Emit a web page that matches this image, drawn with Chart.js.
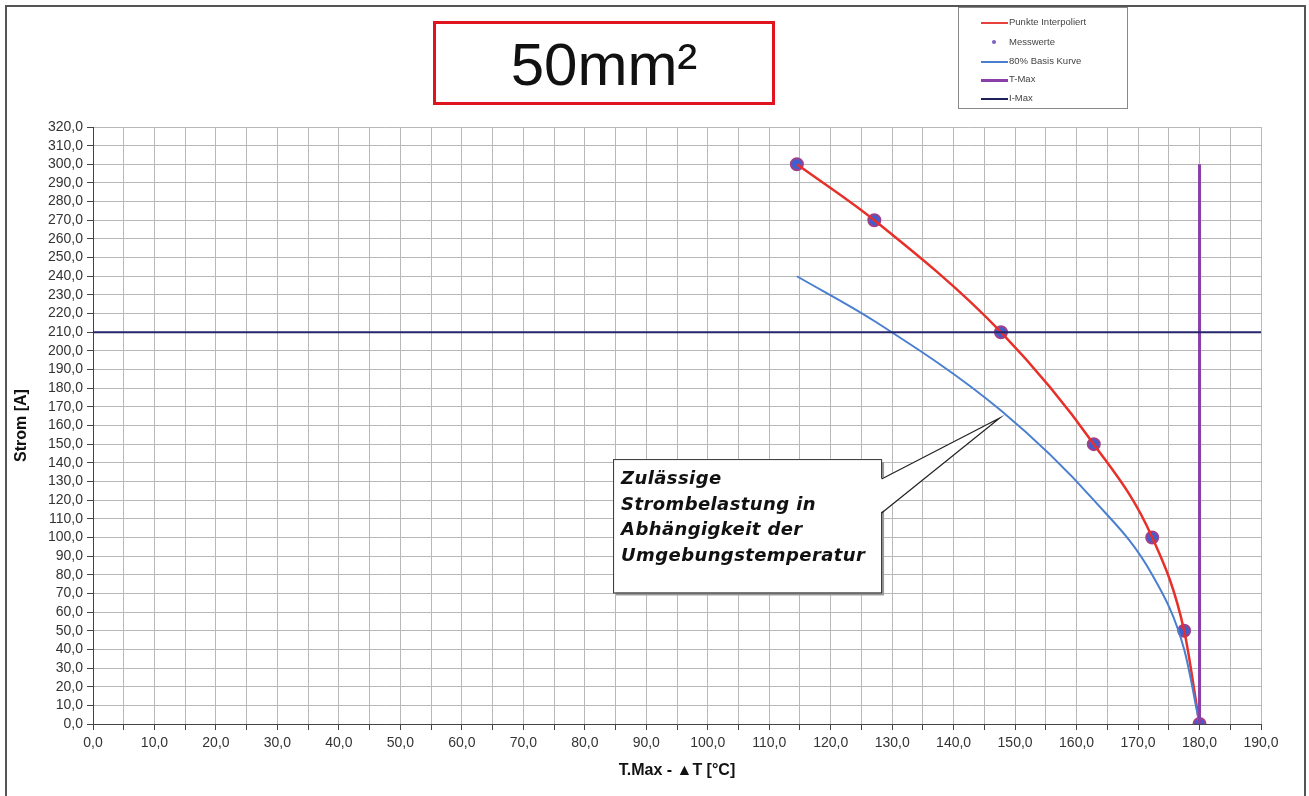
<!DOCTYPE html>
<html>
<head>
<meta charset="utf-8">
<script src="https://cdn.jsdelivr.net/npm/chart.js@4/dist/chart.umd.min.js"></script>
<style>
  body { margin: 0; background: #fff; font-family: "Liberation Sans", Arial, sans-serif; }
  #wrap { position: relative; width: 1309px; height: 796px; overflow: hidden; }
  #frame { position: absolute; left: 5px; top: 5px; width: 1297px; height: 820px; border: 2px solid #555; }
  #title { position: absolute; left: 433px; top: 21px; width: 336px; height: 78px; border: 3px solid #e0141e;
           font-size: 60px; line-height: 82px; text-align: center; color: #111; background: #fff; }
  #legend { position: absolute; left: 958px; top: 7px; width: 168px; height: 100px; border: 1px solid #888; background: #fff;
            font-size: 9.5px; color: #444; }
  .row { position: absolute; left: 0; height: 12px; line-height: 12px; }
  .row i { position: absolute; left: 22px; top: 6px; width: 27px; height: 0; border-top: 2px solid; }
  .row b { position: absolute; left: 33px; top: 4px; width: 4px; height: 4px; border-radius: 50%; background: #7a5fc0; }
  .row span { position: absolute; left: 50px; white-space: nowrap; }
  canvas { position: absolute; left: 0; top: 0; }
</style>
</head>
<body>
<div id="wrap">
  <canvas id="myChart" width="1309" height="796"></canvas>
  <div id="frame"></div>
  <div id="title">50mm²</div>
  <div id="legend">
    <div class="row" style="top:8px"><i style="border-color:#e8403a"></i><span>Punkte Interpoliert</span></div>
    <div class="row" style="top:28px"><b></b><span>Messwerte</span></div>
    <div class="row" style="top:47px"><i style="border-color:#4a7fd0"></i><span>80% Basis Kurve</span></div>
    <div class="row" style="top:65px"><i style="border-color:#8a3fa8;border-top-width:3px"></i><span>T-Max</span></div>
    <div class="row" style="top:84px"><i style="border-color:#1f1f5a"></i><span>I-Max</span></div>
  </div>
</div>
<script>
// Messwerte (temperature, current)
let mTemp = [114.5, 127.1, 147.7, 162.8, 172.3, 177.5, 180.0];
let mStrom = [300, 270, 210, 150, 100, 50, 0];
// 80% Basis Kurve
let bTemp = [114.5, 127.1, 147.7, 162.8, 172.3, 177.5, 180.0];
let bStrom = [240, 216, 168, 120, 80, 40, 0];
// T-Max / I-Max
let tMaxX = [180, 180];
let tMaxY = [0, 300];
let iMaxX = [0, 190];
let iMaxY = [210, 210];

let callText = ['Zulässige', 'Strombelastung in', 'Abhängigkeit der', 'Umgebungstemperatur'];

function pts(xs, ys) {
  let out = [];
  for (let i in xs) out.push({x: xs[i], y: ys[i]});
  return out;
}

const fmt = v => v.toFixed(1).replace('.', ',');

// callout box with pointer
const callout = {
  id: 'callout',
  afterDatasetsDraw(chart) {
    const ctx = chart.ctx;
    const xs = chart.scales.x, ys = chart.scales.y;
    const l = xs.getPixelForValue(84.6), r = xs.getPixelForValue(128.2);
    const t = ys.getPixelForValue(142), b = ys.getPixelForValue(70.5);
    const tipX = xs.getPixelForValue(147.5), tipY = ys.getPixelForValue(164);
    ctx.save();
    // shadow + box
    ctx.fillStyle = '#9a9a9a';
    ctx.fillRect(l + 3, t + 3, r - l, b - t);
    ctx.fillStyle = '#fff';
    ctx.fillRect(l, t, r - l, b - t);
    ctx.strokeStyle = '#333';
    ctx.lineWidth = 1;
    ctx.strokeRect(l + 0.5, t + 0.5, r - l, b - t);
    // pointer
    ctx.beginPath();
    ctx.moveTo(r - 1, t + 20);
    ctx.lineTo(tipX, tipY);
    ctx.lineTo(r - 1, t + 54);
    ctx.closePath();
    ctx.fillStyle = '#fff';
    ctx.fill();
    ctx.beginPath();
    ctx.moveTo(r + 0.5, t + 20);
    ctx.lineTo(tipX, tipY);
    ctx.lineTo(r + 0.5, t + 54);
    ctx.strokeStyle = '#222';
    ctx.lineWidth = 1.2;
    ctx.stroke();
    ctx.fillStyle = '#111';
    ctx.font = 'italic bold 18px "DejaVu Sans", "Liberation Sans", sans-serif';
    if ('letterSpacing' in ctx) ctx.letterSpacing = '0.4px';
    ctx.textBaseline = 'alphabetic';
    callText.forEach((s, i) => ctx.fillText(s, l + 8, t + 25 + i * 25.5));
    ctx.restore();
  }
};

const config = {
  type: 'scatter',
  data: {
    datasets: [
      {
        label: 'I-Max',
        data: pts(iMaxX, iMaxY),
        showLine: true,
        borderColor: '#25256e',
        borderWidth: 2,
        pointRadius: 0
      },
      {
        label: 'T-Max',
        data: pts(tMaxX, tMaxY),
        showLine: true,
        borderColor: '#8a3fa8',
        borderWidth: 3,
        pointRadius: 0
      },
      {
        label: '80% Basis Kurve',
        data: pts(bTemp, bStrom),
        showLine: true,
        borderColor: '#4a7fd0',
        borderWidth: 2,
        pointRadius: 0,
        cubicInterpolationMode: 'monotone'
      },
      {
        label: 'Punkte Interpoliert',
        data: pts(mTemp, mStrom),
        showLine: true,
        borderColor: '#e8302a',
        borderWidth: 2.5,
        pointRadius: 0,
        cubicInterpolationMode: 'monotone'
      },
      {
        label: 'Messwerte',
        data: pts(mTemp, mStrom),
        showLine: false,
        pointRadius: 6,
        pointBackgroundColor: '#3f5fd0',
        pointBorderColor: '#a0408a',
        pointBorderWidth: 2
      }
    ]
  },
  options: {
    responsive: false,
    animation: false,
    layout: { padding: { left: 8, right: 48, top: 127, bottom: 12 } },
    plugins: { legend: { display: false }, tooltip: { enabled: false } },
    scales: {
      x: {
        type: 'linear', min: 0, max: 190,
        afterFit: s => { s.height = 60; },
        border: { color: '#444', width: 1 },
        grid: { color: '#b8b8b8', lineWidth: 1, tickLength: 6, tickColor: '#444' },
        ticks: {
          stepSize: 5, autoSkip: false, maxRotation: 0, padding: 5,
          color: '#333', font: { family: '"Liberation Sans", Arial', size: 14 },
          callback: v => (v % 10 === 0 ? fmt(v) : '')
        },
        title: {
          display: true, text: 'T.Max - ▲T [°C]', color: '#111',
          font: { family: '"Liberation Sans", Arial', size: 16, weight: 'bold' },
          padding: { top: 6 }
        }
      },
      y: {
        type: 'linear', min: 0, max: 320,
        afterFit: s => { s.width = 85; },
        border: { color: '#444', width: 1 },
        grid: { color: '#b8b8b8', lineWidth: 1, tickLength: 6, tickColor: '#444' },
        ticks: {
          stepSize: 10, autoSkip: false,
          color: '#333', font: { family: '"Liberation Sans", Arial', size: 14 },
          padding: 4,
          callback: v => fmt(v)
        },
        title: {
          display: true, text: 'Strom [A]', color: '#111',
          font: { family: '"Liberation Sans", Arial', size: 16, weight: 'bold' },
          padding: { top: 4, bottom: 2 }
        }
      }
    }
  },
  plugins: [callout]
};

var myChart = new Chart(document.getElementById('myChart'), config);
</script>
</body>
</html>
